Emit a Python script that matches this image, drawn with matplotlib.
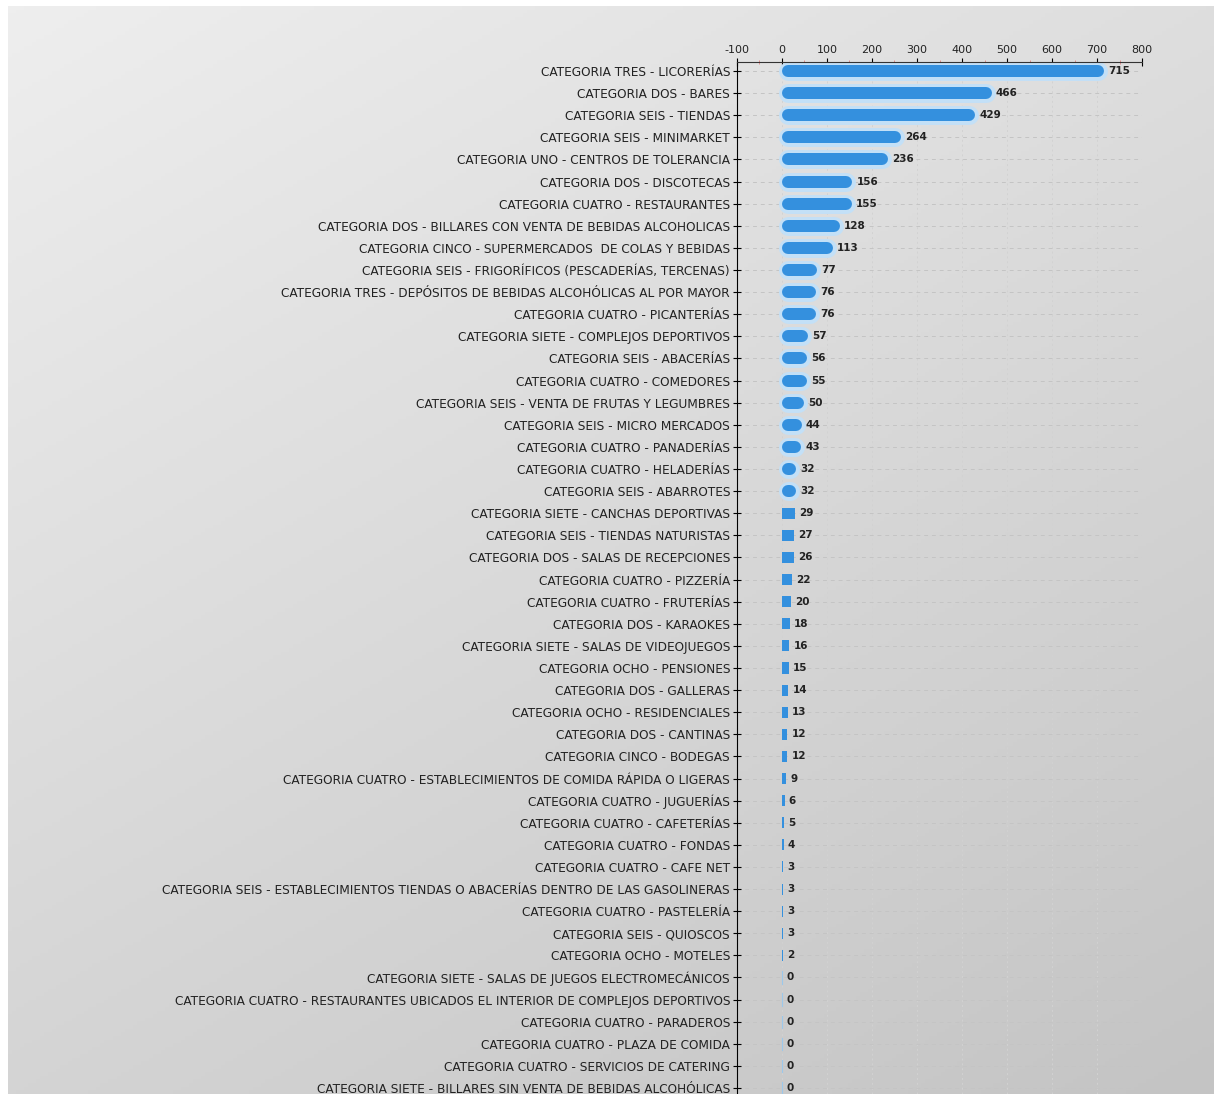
import numpy as np
import matplotlib
matplotlib.use("Agg")
import matplotlib.pyplot as plt

categorias = [
    "CATEGORIA TRES - LICORERÍAS",
    "CATEGORIA DOS - BARES",
    "CATEGORIA SEIS - TIENDAS",
    "CATEGORIA SEIS - MINIMARKET",
    "CATEGORIA UNO - CENTROS DE TOLERANCIA",
    "CATEGORIA DOS - DISCOTECAS",
    "CATEGORIA CUATRO - RESTAURANTES",
    "CATEGORIA DOS - BILLARES CON VENTA DE BEBIDAS ALCOHOLICAS",
    "CATEGORIA CINCO - SUPERMERCADOS  DE COLAS Y BEBIDAS",
    "CATEGORIA SEIS - FRIGORÍFICOS (PESCADERÍAS, TERCENAS)",
    "CATEGORIA TRES - DEPÓSITOS DE BEBIDAS ALCOHÓLICAS AL POR MAYOR",
    "CATEGORIA CUATRO - PICANTERÍAS",
    "CATEGORIA SIETE - COMPLEJOS DEPORTIVOS",
    "CATEGORIA SEIS - ABACERÍAS",
    "CATEGORIA CUATRO - COMEDORES",
    "CATEGORIA SEIS - VENTA DE FRUTAS Y LEGUMBRES",
    "CATEGORIA SEIS - MICRO MERCADOS",
    "CATEGORIA CUATRO - PANADERÍAS",
    "CATEGORIA CUATRO - HELADERÍAS",
    "CATEGORIA SEIS - ABARROTES",
    "CATEGORIA SIETE - CANCHAS DEPORTIVAS",
    "CATEGORIA SEIS - TIENDAS NATURISTAS",
    "CATEGORIA DOS - SALAS DE RECEPCIONES",
    "CATEGORIA CUATRO - PIZZERÍA",
    "CATEGORIA CUATRO - FRUTERÍAS",
    "CATEGORIA DOS - KARAOKES",
    "CATEGORIA SIETE - SALAS DE VIDEOJUEGOS",
    "CATEGORIA OCHO - PENSIONES",
    "CATEGORIA DOS - GALLERAS",
    "CATEGORIA OCHO - RESIDENCIALES",
    "CATEGORIA DOS - CANTINAS",
    "CATEGORIA CINCO - BODEGAS",
    "CATEGORIA CUATRO - ESTABLECIMIENTOS DE COMIDA RÁPIDA O LIGERAS",
    "CATEGORIA CUATRO - JUGUERÍAS",
    "CATEGORIA CUATRO - CAFETERÍAS",
    "CATEGORIA CUATRO - FONDAS",
    "CATEGORIA CUATRO - CAFE NET",
    "CATEGORIA SEIS - ESTABLECIMIENTOS TIENDAS O ABACERÍAS DENTRO DE LAS GASOLINERAS",
    "CATEGORIA CUATRO - PASTELERÍA",
    "CATEGORIA SEIS - QUIOSCOS",
    "CATEGORIA OCHO - MOTELES",
    "CATEGORIA SIETE - SALAS DE JUEGOS ELECTROMECÁNICOS",
    "CATEGORIA CUATRO - RESTAURANTES UBICADOS EL INTERIOR DE COMPLEJOS DEPORTIVOS",
    "CATEGORIA CUATRO - PARADEROS",
    "CATEGORIA CUATRO - PLAZA DE COMIDA",
    "CATEGORIA CUATRO - SERVICIOS DE CATERING",
    "CATEGORIA SIETE - BILLARES SIN VENTA DE BEBIDAS ALCOHÓLICAS",
]
valores = [715, 466, 429, 264, 236, 156, 155, 128, 113, 77, 76, 76, 57, 56, 55,
           50, 44, 43, 32, 32, 29, 27, 26, 22, 20, 18, 16, 15, 14, 13, 12, 12,
           9, 6, 5, 4, 3, 3, 3, 3, 2, 0, 0, 0, 0, 0, 0]

xticks = list(range(-100, 801, 100))
minor_xticks = list(range(-50, 751, 100))

W, H = 1214, 1094
fig = plt.figure(figsize=(W / 100, H / 100), dpi=100, facecolor="white")

# fondo degradado
bg = fig.add_axes([8 / W, 0, 1 - 8 / W, 1 - 6 / H])
gx, gy = np.meshgrid(np.linspace(0, 1, 300), np.linspace(0, 1, 300))
grad = 0.5 * gx + 0.8 * gy
bg.imshow(grad, cmap=matplotlib.colors.LinearSegmentedColormap.from_list(
    "g", ["#eeeeee", "#c4c4c4"]), aspect="auto", extent=[0, 1, 1, 0])
bg.axis("off")

left, right = 737 / W, 1142 / W
top = 1 - 62 / H
ax = fig.add_axes([left, 0, right - left, top])
ax.set_facecolor("none")

y = np.arange(len(categorias))
ax.set_xlim(-100, 800)
ax.set_ylim(46.27, -0.41)

# escala: px por unidad
ppu = (right - left) * W / 900
alto = 12  # px
r = alto / 2 / ppu
lw_pt = alto * 72 / 100

for i, v in enumerate(valores):
    if v >= 2 * r + 4:
        ax.plot([r, v - r], [i, i], color="#c3e0f7", lw=lw_pt + 5,
                solid_capstyle="round", zorder=2)
        ax.plot([r, v - r], [i, i], color="#3490de", lw=lw_pt,
                solid_capstyle="round", zorder=3)
    elif v > 0:
        ax.barh(i, v, height=0.5, color="#3490de", zorder=3)
    else:
        ax.plot([0, 0], [i - 0.28, i + 0.28], color="#9cc8ea", lw=0.8, zorder=3)
    ax.annotate(str(v), (v, i), xytext=(3, 0), textcoords="offset points",
                va="center", ha="left", fontsize=7.5, color="#222222",
                fontweight="bold", zorder=4)

ax.set_yticks(y)
ax.set_yticklabels(categorias, fontsize=8.7, color="#222222")
ax.xaxis.tick_top()
ax.set_xticks(xticks)
ax.set_xticklabels([str(t) for t in xticks], fontsize=8, color="#222222")
ax.set_xticks(minor_xticks, minor=True)
ax.tick_params(axis="x", which="major", direction="inout", length=6, pad=2)
ax.tick_params(axis="x", which="minor", direction="inout", length=3,
               color="#e08080")
ax.tick_params(axis="y", direction="inout", length=6, pad=2)

for s in ["right", "bottom"]:
    ax.spines[s].set_visible(False)
ax.spines["left"].set_color("black")
ax.spines["top"].set_color("#333333")

ax.grid(True, axis="y", color="#c4c4c4", linestyle=(0, (4, 4)), lw=0.7, zorder=1)
ax.grid(True, axis="x", color="#d2d2d2", linestyle=(0, (2, 3)), lw=0.7, zorder=1)

fig.savefig("out.png", dpi=100, facecolor="white")
